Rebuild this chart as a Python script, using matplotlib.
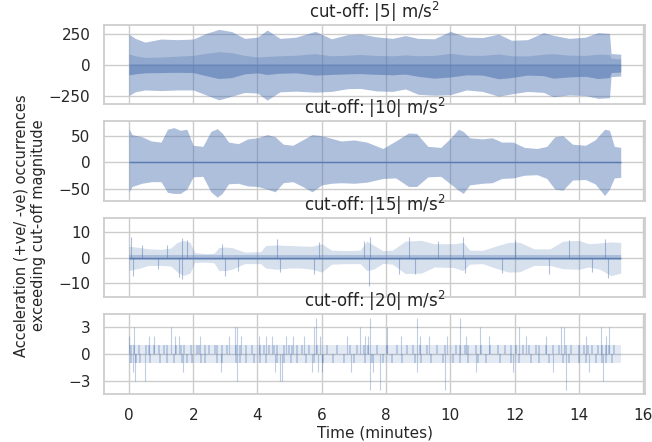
import numpy as np
import matplotlib
matplotlib.use("Agg")
import matplotlib.pyplot as plt
import seaborn as sns


BLUE = "#4c72b0"

# panel 1: cut-off |5|  (envelopes)
t_5 = [0.0, 0.2, 0.5, 1.0, 1.5, 2.0, 2.4, 2.8, 3.2, 3.6, 4.0, 4.3, 4.7, 5.2, 5.8, 6.3, 6.8, 7.2, 7.7,
       8.2, 8.6, 9.0, 9.5, 10.0, 10.5, 11.0, 11.5, 11.9, 12.4, 12.9, 13.2, 13.7, 14.2, 14.6, 14.95, 15.0, 15.3]
pos_5 = [250, 215, 185, 210, 205, 210, 255, 288, 270, 215, 225, 283, 215, 225, 272, 212, 245, 251, 228,
         215, 238, 215, 212, 272, 226, 222, 250, 200, 205, 262, 240, 215, 225, 262, 255, 93, 88]
neg_5 = [-245, -215, -200, -205, -200, -200, -240, -280, -250, -220, -225, -282, -215, -210, -218, -212, -190, -188, -208,
         -212, -192, -235, -242, -238, -200, -212, -250, -232, -212, -220, -255, -240, -245, -268, -262, -93, -88]
inner_pos_5 = [90, 75, 62, 65, 72, 78, 95, 108, 100, 78, 65, 70, 75, 80, 92, 75, 80, 85, 78,
               75, 82, 76, 78, 95, 80, 78, 90, 75, 74, 88, 92, 80, 78, 88, 85, 55, 50]
inner_neg_5 = [-78, -70, -62, -60, -58, -60, -85, -108, -100, -70, -62, -75, -65, -62, -80, -75, -70, -68, -74,
               -78, -72, -90, -105, -95, -78, -80, -110, -100, -80, -85, -105, -95, -90, -108, -100, -60, -55]
core_top_5 = 10

# panel 2: cut-off |10|
t_10 = [0.0, 0.1, 0.4, 0.7, 1.0, 1.2, 1.4, 1.6, 1.8, 2.0, 2.3, 2.55, 2.75, 2.9, 3.1, 3.4, 3.7, 4.0, 4.3,
        4.55, 4.8, 5.1, 5.4, 5.7, 6.0, 6.3, 6.6, 7.0, 7.4, 7.9, 8.3, 8.7, 8.95, 9.3, 9.7, 10.0, 10.25,
        10.4, 10.6, 11.0, 11.3, 11.6, 11.95, 12.3, 12.7, 13.0, 13.25, 13.5, 13.8, 14.2, 14.5, 14.8,
        14.95, 15.1, 15.3]
pos_10 = [63, 52, 48, 40, 38, 62, 65, 60, 62, 32, 30, 58, 63, 55, 38, 35, 44, 46, 52,
          48, 34, 32, 42, 52, 50, 45, 40, 42, 38, 26, 40, 55, 54, 30, 28, 45, 62,
          58, 46, 44, 46, 38, 38, 28, 26, 30, 48, 50, 34, 32, 42, 62,
          60, 30, 28]
neg_10 = [-55, -45, -39, -36, -36, -56, -58, -58, -50, -27, -26, -55, -65, -58, -40, -39, -44, -45, -50,
          -55, -38, -36, -45, -55, -42, -39, -38, -39, -37, -30, -29, -45, -45, -27, -26, -40, -52,
          -58, -42, -39, -38, -30, -29, -24, -23, -30, -50, -52, -33, -32, -40, -62,
          -50, -29, -28]

# panel 3: cut-off |15|
t_15 = [0.0, 0.35, 0.6, 1.0, 1.3, 1.5, 1.7, 1.9, 2.05, 2.4, 2.65, 2.8, 3.0, 3.2, 3.6, 4.1, 4.25, 4.6,
        5.0, 5.35, 5.7, 6.0, 6.3, 6.8, 7.2, 7.4, 7.6, 7.9, 8.2, 8.6, 9.1, 9.5, 10.1, 10.4, 10.6, 11.0,
        11.4, 11.8, 12.15, 12.6, 13.1, 13.5, 14.0, 14.3, 14.65, 15.0, 15.3]
pos_15 = [4.5, 4.0, 3.5, 3.3, 3.8, 6.0, 6.8, 6.0, 2.0, 1.6, 1.8, 4.0, 4.2, 4.0, 2.2, 2.4, 4.8, 5.0,
          4.8, 4.6, 4.5, 5.5, 3.0, 2.8, 3.0, 6.5, 5.0, 2.8, 3.0, 6.5, 6.8, 5.5, 5.5, 6.0, 3.0, 2.9,
          4.5, 6.0, 6.1, 3.5, 3.5, 6.5, 6.8, 5.5, 5.8, 6.2, 6.0]
neg_15 = [-5.0, -4.0, -3.0, -3.0, -3.2, -5.5, -6.9, -6.0, -1.8, -1.7, -2.0, -5.0, -5.0, -4.5, -2.3, -2.3, -4.0, -4.5,
          -4.0, -4.0, -4.5, -5.6, -2.5, -2.3, -2.3, -5.0, -4.5, -2.2, -2.5, -6.2, -6.0, -3.6, -3.8, -5.0, -2.5, -2.3,
          -4.0, -5.6, -5.5, -3.0, -3.0, -4.3, -4.5, -3.6, -4.5, -7.0, -6.0]
core_15 = 1.0
spike_t_15 = [0.05, 0.12, 0.4, 0.9, 1.2, 1.55, 1.66, 1.66, 1.8, 2.9, 3.0, 3.4, 4.61, 4.7, 5.75, 5.9,
              7.3, 7.48, 7.5, 8.4, 8.7, 8.9, 9.6, 10.4, 10.45, 11.6, 12.0, 13.08, 13.7, 14.4, 14.8, 14.9]
spike_v_15 = [8.0, -7.0, 5.0, -4.5, 5.0, -7.5, 7.7, -8.2, 7.0, 5.5, -7.0, -5.0, 7.2, -5.5, -6.5, 6.0,
              6.5, -11.2, 8.0, -6.5, 8.0, -6.5, 6.5, 8.0, -6.0, -6.0, 7.0, -6.5, 7.0, -5.5, 7.5, -8.0]

# panel 4: cut-off |20|  (mostly single counts, a few taller bars)
span_20 = [0.0, 15.3]
base_20 = 1
pos1_t_20 = [0.05, 0.16, 0.31, 0.52, 0.62, 0.78, 0.93, 1.09, 1.19, 1.45, 1.61, 1.71, 1.92, 2.12, 2.18,
             2.38, 2.49, 2.69, 2.75, 2.9, 3.06, 3.32, 3.47, 3.63, 3.83, 4.09, 4.2, 4.35, 4.51, 4.61,
             4.82, 4.97, 5.08, 5.23, 5.4, 5.6, 5.85, 6.16, 6.47, 6.88, 7.09, 7.3, 7.45, 7.71, 8.02,
             8.33, 8.64, 8.85, 9.05, 9.26, 9.57, 9.83, 10.19, 10.29, 10.45, 10.55, 10.81, 10.96, 11.22,
             11.48, 11.69, 11.89, 12.05, 12.25, 12.46, 12.67, 12.77, 12.98, 13.18, 13.39, 13.6, 13.75,
             14.01, 14.17, 14.27, 14.42, 14.58, 14.73, 14.84, 14.94, 15.1]
neg1_t_20 = [0.05, 0.21, 0.36, 0.67, 0.98, 1.19, 1.4, 1.66, 1.81, 1.97, 2.23, 2.38, 2.75, 2.9, 3.32,
             3.47, 3.63, 3.89, 4.09, 4.25, 4.61, 4.82, 5.03, 5.23, 5.5, 5.75, 6.05, 6.35, 6.7, 7.0,
             7.35, 7.55, 7.9, 8.2, 8.5, 8.9, 9.1, 9.4, 9.77, 10.08, 10.29, 10.55, 10.86, 11.12, 11.53,
             11.89, 12.15, 12.51, 12.77, 13.08, 13.49, 13.7, 14.01, 14.22, 14.53, 14.73, 14.84, 15.04]
spike_t_20 = [0.0, 0.15, 0.12, 0.2, 0.5, 0.63, 0.78, 1.32, 1.42, 1.55, 1.67, 2.2, 2.85, 3.1, 3.3, 3.35,
              3.36, 3.5, 4.05, 4.25, 4.45, 4.55, 4.7, 4.75, 4.9, 5.1, 5.45, 5.7, 5.77, 5.82, 5.87, 6.0,
              5.95, 6.78, 6.9, 7.19, 7.35, 7.45, 7.5, 7.5, 7.6, 7.81, 8.02, 8.45, 8.95, 8.95, 9.05, 9.35,
              9.83, 9.88, 10.29, 10.5, 10.8, 11.2, 10.92, 11.95, 12.15, 12.35, 12.97, 13.2, 13.44, 13.54,
              13.6, 14.22, 14.32, 14.69, 14.74, 14.85, 14.95]
spike_v_20 = [2, 3, -2, -3, -3, 2, 2, 3, 2, 2, -2, 2, -2, 2, 3, 3,
              -3, 2, 2, 2, 2, -2, -3, -3, 2, 2, 2, -2, 3, 4, -2, -2,
              2, 2, -2, 3, 2, 2, 4, -4, -2, -4, 3, 2, 4, -2, 2, 2,
              -4, 2, 4, 2, -2, 2, 3, -2, 3, 2, 2, -2, 3, 3,
              -4, 2, -2, 3, -3, 2, 3]

cutoffs = [5, 10, 15, 20]
ylims = [(-317, 325), (-72, 77), (-15.5, 15.7), (-4.4, 4.4)]
yticks = [[-250, 0, 250], [-50, 0, 50], [-10, 0, 10], [-3, 0, 3]]


sns.set_theme(style="whitegrid")

fig, axes = plt.subplots(4, 1, sharex=True, figsize=(6.52, 4.42), dpi=100)
fig.subplots_adjust(left=0.16, right=0.99, top=0.944, bottom=0.109, hspace=0.21)

ax = axes[0]
ax.fill_between(t_5, neg_5, pos_5, color=BLUE, alpha=0.45, lw=0)
ax.fill_between(t_5, inner_neg_5, inner_pos_5, color=BLUE, alpha=0.3, lw=0)
ax.fill_between(t_5, inner_neg_5, core_top_5, color=BLUE, alpha=0.35, lw=0)

ax = axes[1]
ax.fill_between(t_10, neg_10, pos_10, color=BLUE, alpha=0.45, lw=0)
ax.hlines(0, t_10[0], t_10[-1], color=BLUE, alpha=0.8, lw=1)

ax = axes[2]
ax.fill_between(t_15, neg_15, pos_15, color=BLUE, alpha=0.22, lw=0)
ax.fill_between([t_15[0], t_15[-1]], -core_15, core_15, color=BLUE, alpha=0.3, lw=0)
ax.hlines(0, t_15[0], t_15[-1], color=BLUE, alpha=0.7, lw=1)
ax.vlines(spike_t_15, 0, spike_v_15, color=BLUE, alpha=0.45, lw=0.8)

ax = axes[3]
ax.fill_between(span_20, -base_20, base_20, color=BLUE, alpha=0.15, lw=0)
ax.vlines(pos1_t_20, 0, base_20, color=BLUE, alpha=0.35, lw=1.2)
ax.vlines(neg1_t_20, 0, -base_20, color=BLUE, alpha=0.35, lw=1.2)
ax.vlines(spike_t_20, 0, spike_v_20, color=BLUE, alpha=0.35, lw=0.8)

for ax, c, lim, ticks in zip(axes, cutoffs, ylims, yticks):
    ax.set_title(f"cut-off: |{c}| m/s$^2$", fontsize=12, pad=5)
    ax.set_ylim(*lim)
    ax.set_yticks(ticks)
    ax.tick_params(labelsize=11, pad=4)

axes[-1].set_xlim(-0.765, 16.07)
axes[-1].set_xticks([0, 2, 4, 6, 8, 10, 12, 14, 16])
axes[-1].set_xlabel("Time (minutes)", fontsize=11, labelpad=2)

fig.text(0.045, 0.49, "Acceleration (+ve/ -ve) occurrences\nexceeding cut-off magnitude",
         rotation=90, ha="center", va="center", multialignment="center", fontsize=10.5)

plt.savefig("out.png", dpi=100)
